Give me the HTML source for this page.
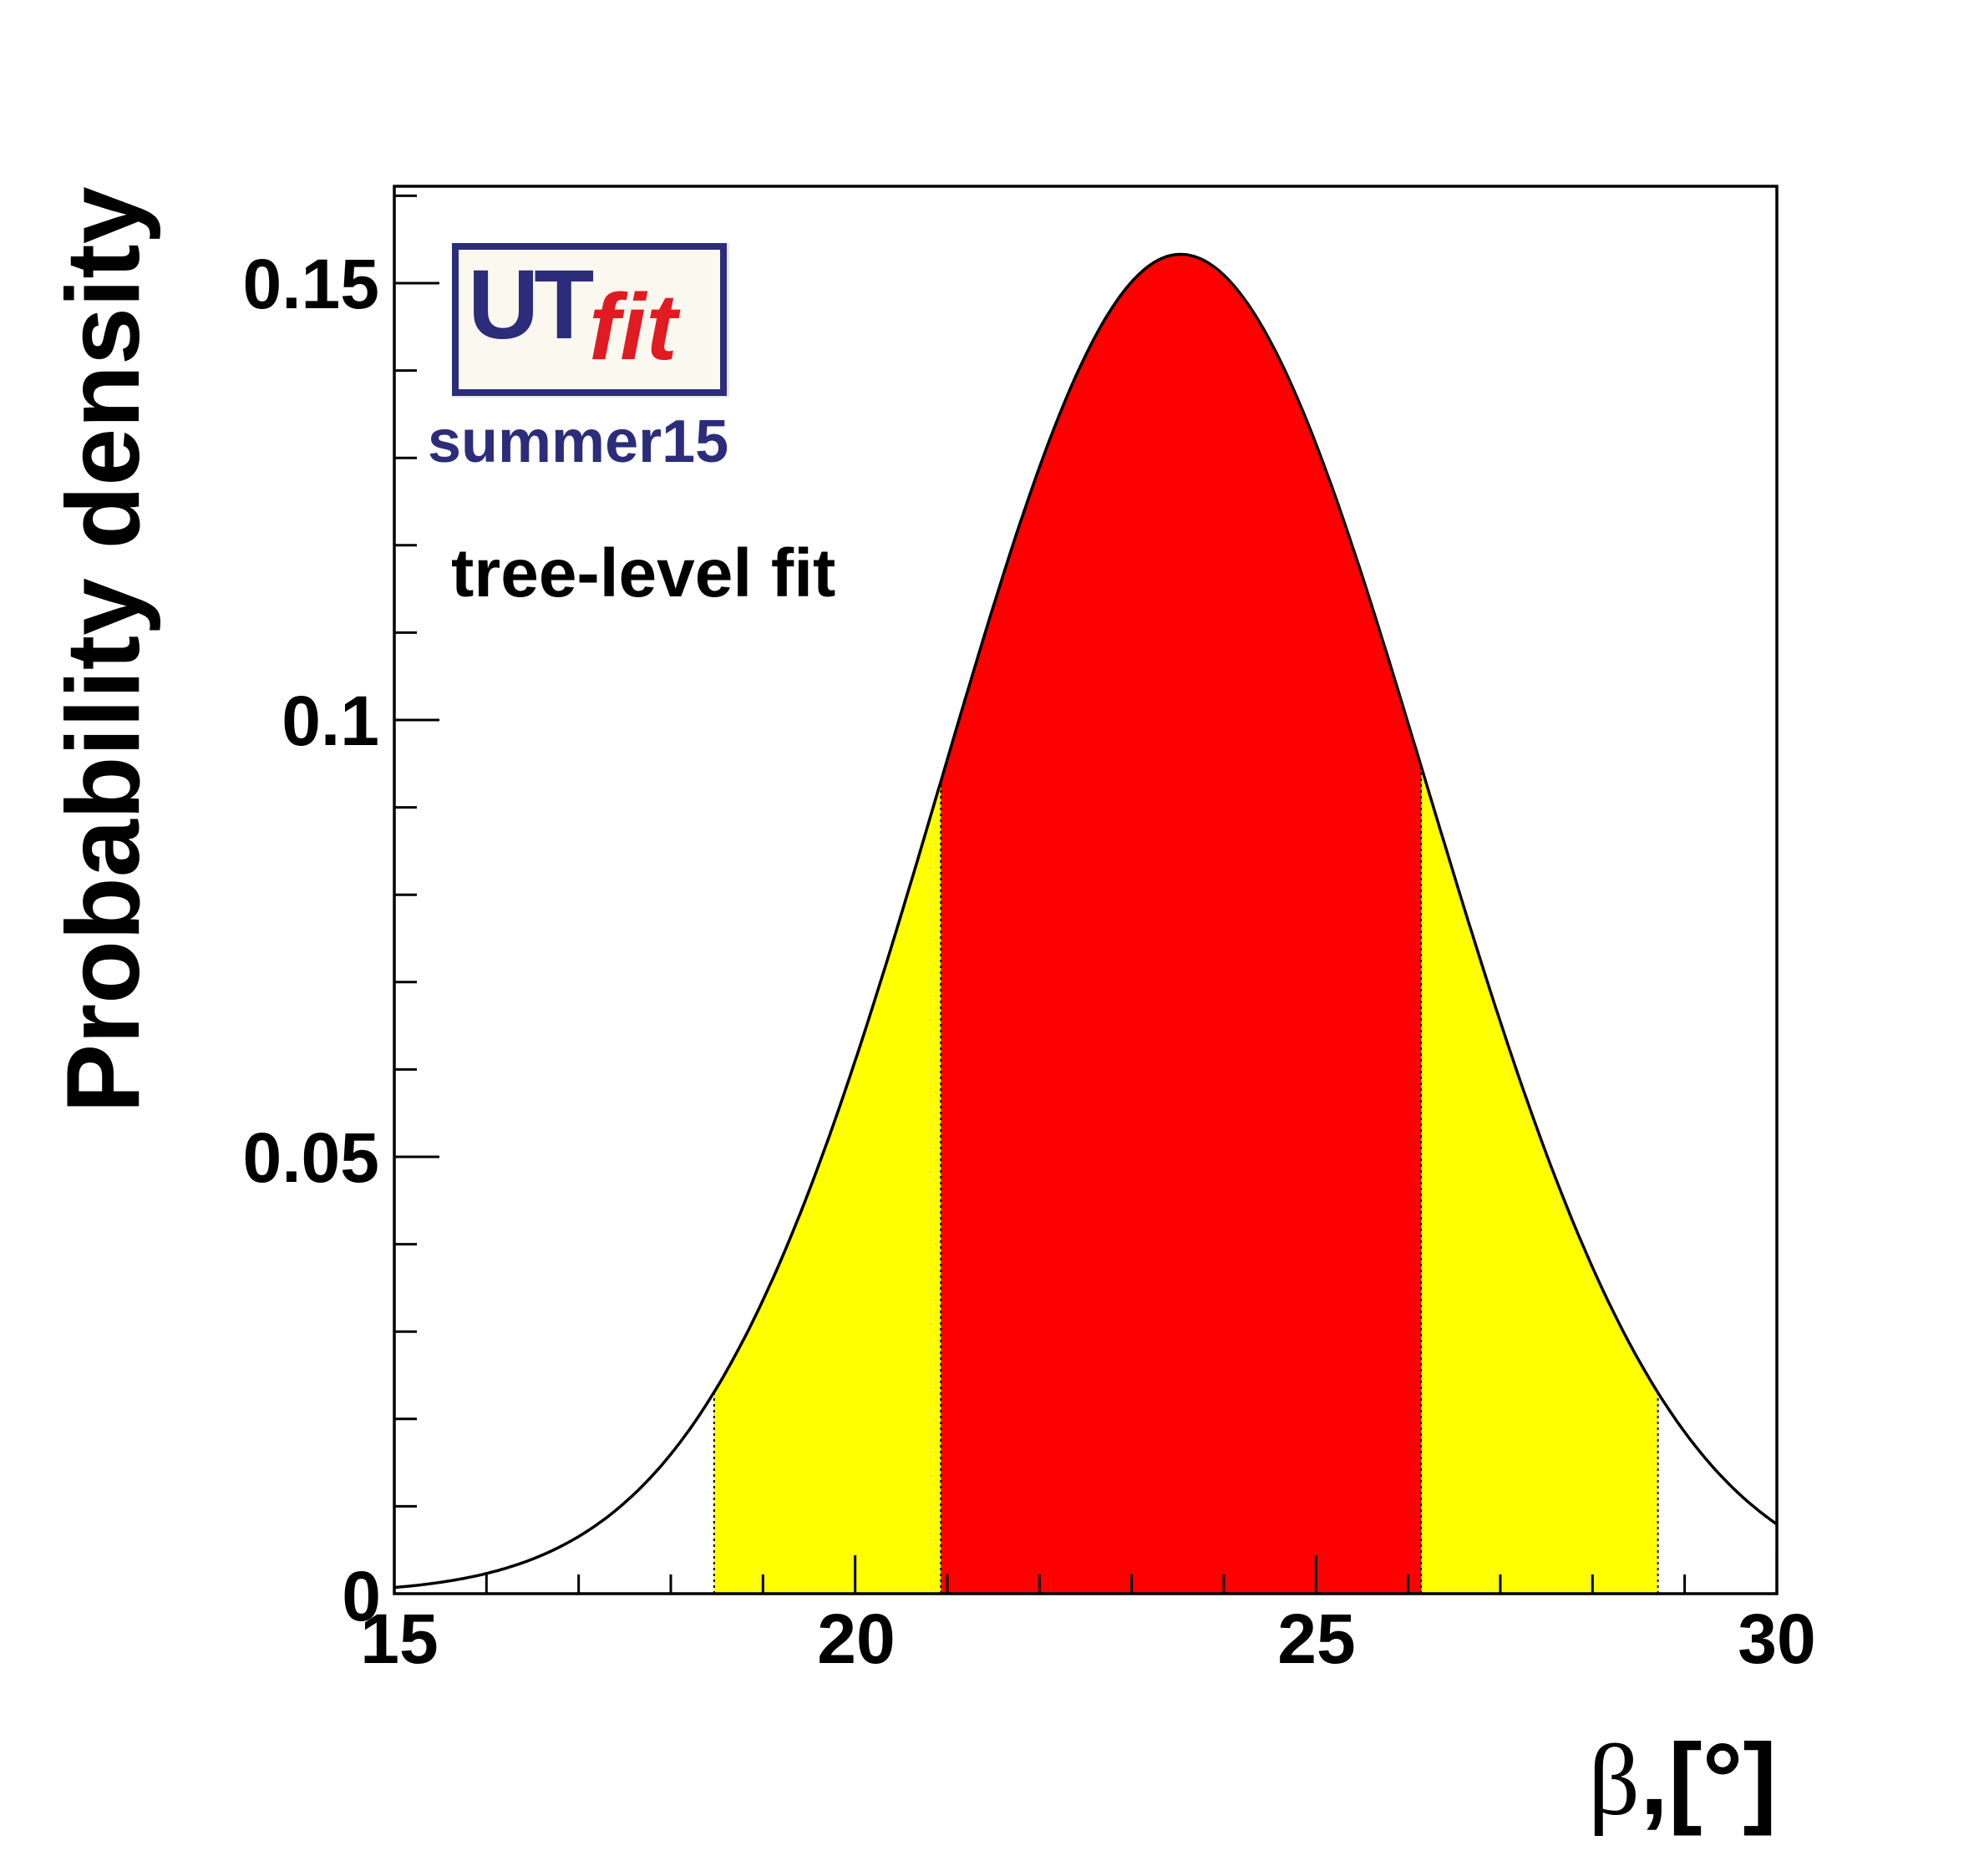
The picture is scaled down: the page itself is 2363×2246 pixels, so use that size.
<!DOCTYPE html>
<html><head><meta charset="utf-8"><style>
html,body{margin:0;padding:0;background:#fff;}
svg{display:block;}
text{font-family:"Liberation Sans",Arial,sans-serif;font-weight:bold;}
</style></head><body>
<svg id="s" width="2363" height="2246" viewBox="0 0 2363 2246" xmlns="http://www.w3.org/2000/svg">
<rect width="2363" height="2246" fill="#fff"/>
<path id="yel" fill="#ffff00" stroke="none"/>
<path id="red" fill="#ff0000" stroke="none"/>
<g id="dots" stroke="#000" stroke-width="2" stroke-dasharray="3,4"></g>
<path id="curve" fill="none" stroke="#000" stroke-width="3.5"/>
<g id="ticks" stroke="#000" stroke-width="3"></g>
<rect x="472" y="223" width="1655" height="1685" fill="none" stroke="#000" stroke-width="3.5"/>
<g font-size="84" text-anchor="end">
<text x="454" y="369">0.15</text>
<text x="454" y="892">0.1</text>
<text x="454" y="1415">0.05</text>
<text x="456" y="1940">0</text>
</g>
<g font-size="84" text-anchor="middle">
<text x="478" y="1991">15</text>
<text x="1025" y="1991">20</text>
<text x="1576" y="1991">25</text>
<text x="2127" y="1991">30</text>
</g>
<text transform="translate(166,778) rotate(-90)" font-size="124" text-anchor="middle">Probability density</text>
<text x="2127" y="2172" font-size="122" text-anchor="end"><tspan font-family="'Liberation Serif',serif" font-weight="normal">β</tspan>,[°]</text>
<rect x="541" y="291" width="332" height="185" fill="#d8d8d8" opacity="0.6"/>
<rect x="545" y="295" width="321" height="175" fill="#fbf8f0" stroke="#2b2d7a" stroke-width="8"/>
<text x="560" y="405" font-size="118" fill="#2b2d7a" letter-spacing="-6">UT</text>
<text x="705" y="430" font-size="112" fill="#e01b22" font-family="'Liberation Serif',serif" font-style="italic" font-weight="normal">fit</text>
<text x="512" y="553" font-size="72" fill="#2b2d7a">summer15</text>
<text x="540" y="714" font-size="82" fill="#000">tree-level fit</text>
</svg>
<script>
(function(){
var X=function(x){return 472+(x-15)*110.33;};
var Y=function(y){return 1908-y*10460;};
var mu=23.53,A=0.1533;
function f(x){var sg=x<mu?2.6:2.66;var z=(x-mu)/sg;return A*Math.exp(-0.5*z*z);}
function seg(a,b){var d='M'+X(a).toFixed(1)+' '+Y(0);for(var x=a;x<=b+1e-9;x+=0.02){d+=' L'+X(x).toFixed(1)+' '+Y(f(x)).toFixed(1);}d+=' L'+X(b).toFixed(1)+' '+Y(f(b)).toFixed(1)+' L'+X(b).toFixed(1)+' '+Y(0)+' Z';return d;}
document.getElementById('yel').setAttribute('d',seg(18.47,28.71));
document.getElementById('red').setAttribute('d',seg(20.93,26.14));
var c='';for(var x=15;x<=30.0001;x+=0.02){c+=(c?' L':'M')+X(x).toFixed(1)+' '+Y(f(x)).toFixed(1);}
document.getElementById('curve').setAttribute('d',c);
var ns='http://www.w3.org/2000/svg';
function ln(g,x1,y1,x2,y2){var l=document.createElementNS(ns,'line');l.setAttribute('x1',x1);l.setAttribute('y1',y1);l.setAttribute('x2',x2);l.setAttribute('y2',y2);g.appendChild(l);}
var dg=document.getElementById('dots');
[18.47,20.93,26.14,28.71].forEach(function(b){ln(dg,X(b),Y(0),X(b),Y(f(b)));});
var tg=document.getElementById('ticks');
for(var i=0;i<=16;i++){var y=Y(i*0.01);ln(tg,472,y,472+(i%5==0?54:27),y);}
for(var j=0;j<=15;j++){var x=X(15+j);ln(tg,x,1908,x,1908-(j%5==0?46:23));}
})();
</script>
</body></html>
